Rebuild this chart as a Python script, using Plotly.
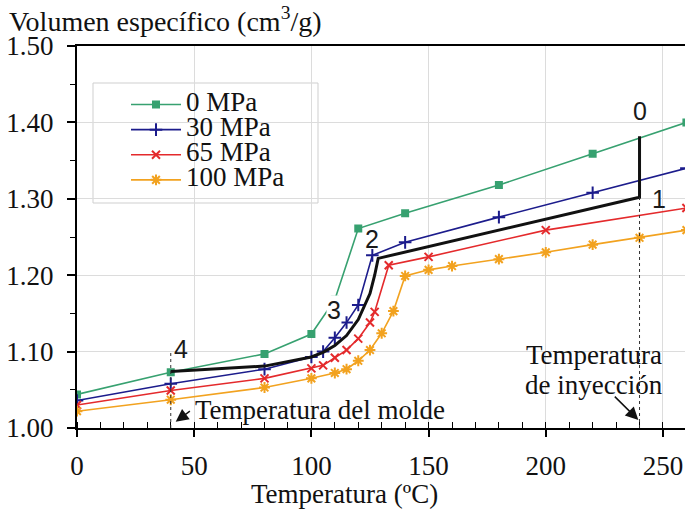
import plotly.graph_objects as go

# ---- data ----
T_0 = [0, 40, 80, 100, 110, 120, 140, 180, 220, 260]
V_0 = [1.044, 1.073, 1.097, 1.123, 1.168, 1.261, 1.281, 1.318, 1.359, 1.400]

T_30 = [0, 40, 80, 100, 105, 110, 115, 120, 126, 140, 180, 220, 260]
V_30 = [1.036, 1.058, 1.077, 1.093, 1.100, 1.118, 1.138, 1.161, 1.226, 1.243, 1.276, 1.308, 1.340]

T_65 = [0, 40, 80, 100, 105, 110, 115, 120, 125, 127, 133, 150, 200, 260]
V_65 = [1.030, 1.049, 1.065, 1.078, 1.082, 1.092, 1.102, 1.117, 1.138, 1.152, 1.213, 1.224, 1.259, 1.288]

T_100 = [0, 40, 80, 100, 110, 115, 120, 125, 130, 135, 140, 150, 160, 180, 200, 220, 240, 260]
V_100 = [1.022, 1.037, 1.053, 1.065, 1.072, 1.077, 1.088, 1.102, 1.124, 1.153, 1.199, 1.207,
         1.212, 1.221, 1.230, 1.240, 1.249, 1.259]

# processing cycle path (black)
T_CICLO = [40, 80, 100, 105, 110, 115, 120, 125, 127, 128.5, 240, 240]
V_CICLO = [1.074, 1.081, 1.093, 1.099, 1.108, 1.121, 1.142, 1.176, 1.200, 1.222, 1.302, 1.382]

T_MOLDE = 40
T_INY = 240
V_MOLDE_TOP = 1.102
V_INY_TOP = 1.302

PUNTOS = ["0", "1", "2", "3", "4"]
PUNTOS_T = [240, 248.5, 125.9, 109.6, 44.5]
PUNTOS_V = [1.415, 1.300, 1.248, 1.155, 1.104]

SERIES = ["0 MPa", "30 MPa", "65 MPa", "100 MPa"]
X_TICKS = [0, 50, 100, 150, 200, 250]
Y_TICKS = [1.0, 1.1, 1.2, 1.3, 1.4, 1.5]
Y_TICK_TEXT = ["1.00", "1.10", "1.20", "1.30", "1.40", "1.50"]

SERIF = "Liberation Serif, Times New Roman, serif"
SANS = "Liberation Sans, Arial, sans-serif"
FS = 27

colors = ["#37a170", "#1c1c8c", "#e42a2c", "#f2a21f"]
symbols = ["square", "cross-thin", "x-thin", "asterisk"]
sizes = [6, 9, 8, 9]

fig = go.Figure()
data = [(T_0, V_0), (T_30, V_30), (T_65, V_65), (T_100, V_100)]
for (t, v), name, c, s, sz in zip(data, SERIES, colors, symbols, sizes):
    fig.add_trace(go.Scatter(
        x=t, y=v, mode="lines+markers",
        name='<span style="font-size:%dpx">%s</span>' % (FS, name),
        line=dict(color=c, width=1.6),
        marker=dict(symbol=s, size=sz, color=c, line=dict(color=c, width=2)),
    ))

fig.add_trace(go.Scatter(
    x=T_CICLO, y=V_CICLO, mode="lines", showlegend=False,
    line=dict(color="#111111", width=3),
))

shapes = [
    # legend box
    dict(type="rect", xref="paper", yref="paper",
         x0=(93 - 77) / 608, x1=(318 - 77) / 608,
         y0=(428 - 203) / 382, y1=(428 - 83) / 382,
         line=dict(color="#cfcfcf", width=1), fillcolor="white", layer="between"),
    dict(type="line", x0=T_MOLDE, x1=T_MOLDE, y0=1.0, y1=V_MOLDE_TOP,
         line=dict(color="#333333", width=1, dash="dot"), layer="above"),
    dict(type="line", x0=T_INY, x1=T_INY, y0=1.0, y1=V_INY_TOP,
         line=dict(color="#333333", width=1, dash="dot"), layer="above"),
]

annotations = []
for txt, t, v in zip(PUNTOS, PUNTOS_T, PUNTOS_V):
    annotations.append(dict(x=t, y=v, text=txt, showarrow=False,
                            font=dict(family=SANS, size=25, color="#1a1a1a"),
                            bgcolor="white" if txt == "3" else None, borderpad=0,
                            xanchor="center", yanchor="middle"))

annotations += [
    dict(x=49.7, y=1.0236, text="Temperatura del molde", showarrow=False,
         xanchor="left", yanchor="middle", font=dict(family=SERIF, size=FS, color="#111")),
    dict(x=42.1, y=1.0082, ax=48.8, ay=1.0236, axref="x", ayref="y", text="",
         showarrow=True, arrowhead=2, arrowsize=1.7, arrowwidth=1.5, arrowcolor="#111"),
    dict(x=220.4, y=1.0955, text="Temperatura", showarrow=False,
         xanchor="center", yanchor="middle", font=dict(family=SERIF, size=FS, color="#111")),
    dict(x=220.4, y=1.0565, text="de inyección", showarrow=False,
         xanchor="center", yanchor="middle", font=dict(family=SERIF, size=FS, color="#111")),
    dict(x=239.5, y=1.0105, ax=228.8, ay=1.043, axref="x", ayref="y", text="",
         showarrow=True, arrowhead=2, arrowsize=1.7, arrowwidth=1.5, arrowcolor="#111"),
    dict(xref="paper", yref="paper", x=(7 - 77) / 608, y=(428 - 20) / 382,
         text="Volumen específico (cm<sup>3</sup>/g)", showarrow=False,
         xanchor="left", yanchor="middle", font=dict(family=SERIF, size=28, color="#111")),
    dict(xref="paper", yref="paper", x=(344 - 77) / 608, y=(428 - 494) / 382,
         text="Temperatura (ºC)", showarrow=False,
         xanchor="center", yanchor="middle", font=dict(family=SERIF, size=FS, color="#111")),
]

fig.update_layout(
    width=685, height=516,
    margin=dict(l=77, r=0, t=46, b=88, autoexpand=False),
    paper_bgcolor="white", plot_bgcolor="white",
    font=dict(family=SERIF, size=FS, color="#111"),
    showlegend=True,
    legend=dict(x=(126 - 77) / 608, y=(428 - 87) / 382, xanchor="left", yanchor="top",
                bgcolor="rgba(0,0,0,0)", borderwidth=0,
                font=dict(family=SERIF, size=17, color="#111"),
                itemwidth=50, tracegroupgap=0),
    shapes=shapes,
    annotations=annotations,
    xaxis=dict(range=[0, 259.4], tickvals=X_TICKS, showgrid=True, gridcolor="#dcdcdc",
               gridwidth=1, zeroline=False, showline=True, linecolor="black", linewidth=2,
               mirror=True, ticks="outside", ticklen=7, tickwidth=1.5, tickcolor="black",
               ticklabelstandoff=6, automargin=False,
               minor=dict(dtick=10, ticks="inside", ticklen=6, tickwidth=1.2,
                          tickcolor="black", showgrid=False),
               tickfont=dict(family=SERIF, size=FS, color="#111")),
    yaxis=dict(range=[1.0, 1.5], tickvals=Y_TICKS, ticktext=Y_TICK_TEXT, showgrid=True,
               gridcolor="#dcdcdc", gridwidth=1, zeroline=False, showline=True,
               linecolor="black", linewidth=2, ticks="outside", ticklen=8, tickwidth=1.5,
               tickcolor="black", ticklabelstandoff=8, automargin=False,
               minor=dict(dtick=0.05, ticks="outside", ticklen=5, tickwidth=1.2,
                          tickcolor="black", showgrid=False),
               tickfont=dict(family=SERIF, size=FS, color="#111")),
)

fig.write_html("out.html", config={"displayModeBar": False},
               post_script="document.body.style.margin='0';document.body.style.padding='0';")
